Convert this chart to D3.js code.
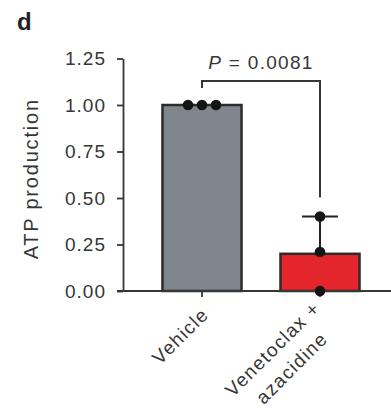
<!DOCTYPE html>
<html>
<head>
<meta charset="utf-8">
<script src="https://cdn.jsdelivr.net/npm/d3@7"></script>
<style>
  html, body { margin: 0; padding: 0; background: #fff; }
  svg { display: block; font-family: "Liberation Sans", Arial, Helvetica, sans-serif; }
</style>
</head>
<body>
<svg id="chart" width="391" height="419"></svg>
<script>
// ATP production per treatment group (normalized to vehicle)
const categories = ["Vehicle", "Venetoclax + azacidine"];
const categoryLines = [["Vehicle"], ["Venetoclax +", "azacidine"]];
const means = [1.0, 0.2];
const sds = [0.0, 0.2];
const replicates = [[1.0, 1.0, 1.0], [0.4, 0.21, 0.0]];
const barColors = ["#80868d", "#e4252b"];
const yTicks = [0, 0.25, 0.5, 0.75, 1.0, 1.25];
const pLabel = "P = 0.0081";
const panelLabel = "d";
const yTitle = "ATP production";

(function draw() {
  const svg = d3.select("#chart");
  const ink = "#363636";

  const y = d3.scaleLinear().domain([0, 1.25]).range([291, 58.5]);
  const x = d3.scaleBand().domain(categories).range([143, 379])
    .paddingInner(0.33).paddingOuter(0.165);
  const cx = c => x(c) + x.bandwidth() / 2;

  // panel letter
  svg.append("text").attr("x", 17).attr("y", 30)
    .attr("font-size", 24).attr("font-weight", "bold").attr("fill", "#222")
    .text(panelLabel);

  // y axis
  const yAxis = svg.append("g").attr("transform", "translate(123,0)")
    .call(d3.axisLeft(y).tickValues(yTicks).tickFormat(d3.format(".2f"))
      .tickSize(6).tickPadding(11).tickSizeOuter(0));
  yAxis.select(".domain").attr("stroke", ink).attr("stroke-width", 1.8);
  yAxis.selectAll(".tick line").attr("stroke", ink).attr("stroke-width", 1.8);
  yAxis.selectAll(".tick text").attr("font-size", 19).attr("fill", ink)
    .attr("letter-spacing", 1);
  yAxis.attr("font-family", null).attr("font-size", null);

  // y title
  svg.append("text")
    .attr("transform", `translate(38,${(y(0) + y(1.25)) / 2 + 4}) rotate(-90)`)
    .attr("text-anchor", "middle").attr("font-size", 20).attr("letter-spacing", 1.8)
    .attr("fill", ink).text(yTitle);

  // bars
  svg.selectAll("rect.bar").data(categories).join("rect").attr("class", "bar")
    .attr("x", c => x(c)).attr("width", x.bandwidth())
    .attr("y", (c, i) => y(means[i])).attr("height", (c, i) => y(0) - y(means[i]))
    .attr("fill", (c, i) => barColors[i]).attr("stroke", "#2c2c2c").attr("stroke-width", 2.5);

  // x axis baseline
  svg.append("line").attr("x1", 117).attr("x2", 391).attr("y1", y(0)).attr("y2", y(0))
    .attr("stroke", ink).attr("stroke-width", 1.8);
  svg.selectAll("line.xtick").data(categories).join("line").attr("class", "xtick")
    .attr("x1", cx).attr("x2", cx).attr("y1", y(0)).attr("y2", y(0) + 6)
    .attr("stroke", ink).attr("stroke-width", 1.8);

  // error bars (mean + SD)
  categories.forEach((c, i) => {
    if (sds[i] <= 0) return;
    const g = svg.append("g");
    g.append("line").attr("x1", cx(c)).attr("x2", cx(c))
      .attr("y1", y(means[i])).attr("y2", y(means[i] + sds[i]))
      .attr("stroke", "#222").attr("stroke-width", 2);
    g.append("line").attr("x1", cx(c) - 18).attr("x2", cx(c) + 18)
      .attr("y1", y(means[i] + sds[i])).attr("y2", y(means[i] + sds[i]))
      .attr("stroke", "#222").attr("stroke-width", 2);
  });

  // replicate points, spread horizontally when values coincide
  categories.forEach((c, i) => {
    const vals = replicates[i];
    vals.forEach((v, j) => {
      const same = vals.filter(w => Math.abs(w - v) < 0.03);
      const k = vals.slice(0, j).filter(w => Math.abs(w - v) < 0.03).length;
      const off = same.length > 1 ? (k - (same.length - 1) / 2) * 14 : 0;
      svg.append("circle").attr("cx", cx(c) + off).attr("cy", y(v)).attr("r", 5.3)
        .attr("fill", "#151515");
    });
  });

  // significance bracket
  const bracketY = y(1.0) - 24;
  const leftEnd = y(d3.max(replicates[0].concat([means[0] + sds[0]]))) - 17;
  const rightEnd = y(d3.max(replicates[1].concat([means[1] + sds[1]]))) - 19;
  const x0 = cx(categories[0]), x1 = cx(categories[1]);
  svg.append("path")
    .attr("d", `M${x0},${leftEnd}V${bracketY}H${x1}V${rightEnd}`)
    .attr("fill", "none").attr("stroke", ink).attr("stroke-width", 2);
  const pt = svg.append("text").attr("x", (x0 + x1) / 2).attr("y", bracketY - 12.5)
    .attr("text-anchor", "middle").attr("font-size", 19).attr("letter-spacing", 1.3)
    .attr("fill", ink);
  pt.append("tspan").attr("font-style", "italic").text(pLabel.split(" ")[0]);
  pt.append("tspan").text(pLabel.slice(1));

  // rotated category labels, multi-line centred
  categoryLines.forEach((lines, i) => {
    const c = categories[i];
    const n = lines.length;
    const g = svg.append("g")
      .attr("transform", `translate(${cx(c)},${y(0)}) rotate(-45)`);
    const texts = lines.map((s, j) => g.append("text")
      .attr("font-size", 19).attr("letter-spacing", 1.3).attr("fill", ink)
      .attr("text-anchor", "end")
      .attr("y", 23 - (n - 1) * 9 + j * 27).text(s));
    const widths = texts.map(t => t.node().getComputedTextLength());
    const wmax = d3.max(widths);
    texts.forEach((t, j) => t.attr("x", -12 - (wmax - widths[j]) / 2));
  });
})();
</script>
</body>
</html>
